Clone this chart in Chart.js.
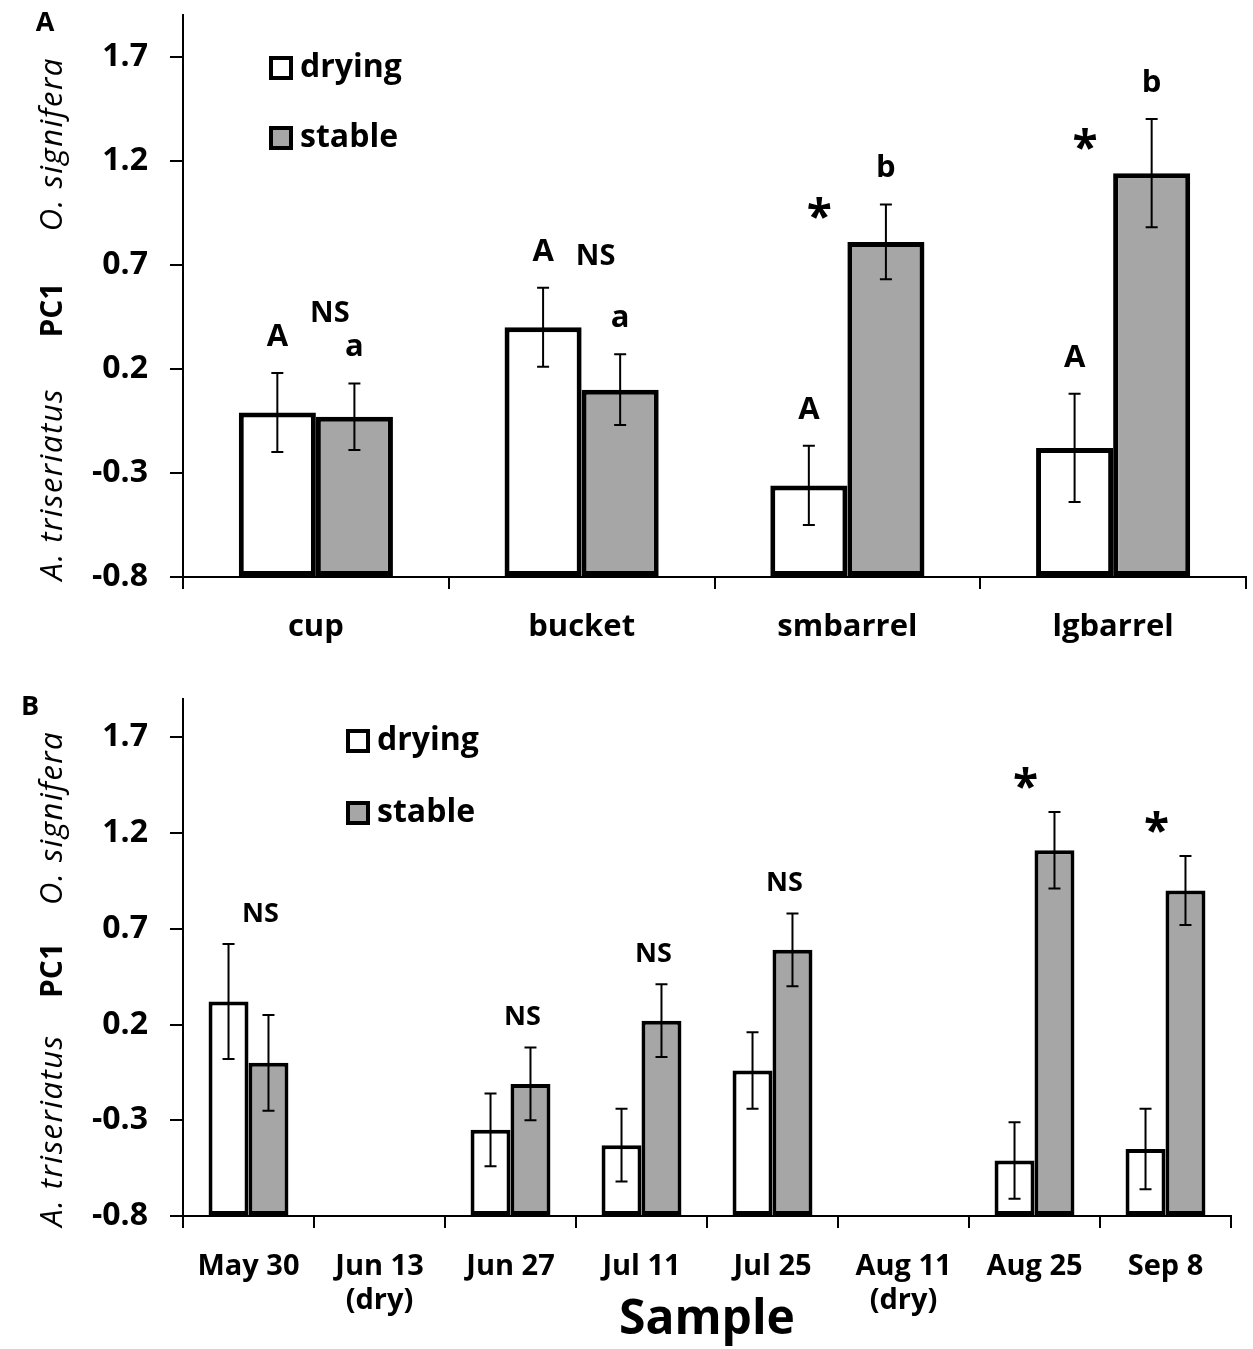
<!DOCTYPE html>
<html>
<head>
<meta charset="utf-8">
<script src="https://cdn.jsdelivr.net/npm/chart.js@4.4.0/dist/chart.umd.min.js"></script>
<style>
  html, body { margin: 0; padding: 0; background: #fff; }
  .wrap { position: absolute; left: 0; width: 1253px; }
  #wrap-a { top: 0; height: 668px; }
  #wrap-b { top: 680px; height: 669px; }
</style>
</head>
<body>
<div class="wrap" id="wrap-a"><canvas id="chart-a"></canvas></div>
<div class="wrap" id="wrap-b"><canvas id="chart-b"></canvas></div>
<script>
// panel A - container size
const SIZES = ["cup", "bucket", "smbarrel", "lgbarrel"];
const SIZE_DRYING = [-0.01, 0.40, -0.36, -0.18];
const SIZE_DRYING_ERR = [0.19, 0.19, 0.19, 0.26];
const SIZE_STABLE = [-0.03, 0.10, 0.81, 1.14];
const SIZE_STABLE_ERR = [0.16, 0.17, 0.18, 0.26];
const SIZE_DRYING_LETTERS = ["A", "A", "A", "A"];
const SIZE_STABLE_LETTERS = ["a", "a", "b", "b"];
const SIZE_SIG = ["NS", "NS", "*", "*"];

// panel B - sample date
const DATES = ["May 30", ["Jun 13", "(dry)"], "Jun 27", "Jul 11", "Jul 25", ["Aug 11", "(dry)"], "Aug 25", "Sep 8"];
const DATE_DRYING = [0.32, null, -0.35, -0.43, -0.04, null, -0.51, -0.45];
const DATE_DRYING_ERR = [0.30, null, 0.19, 0.19, 0.20, null, 0.20, 0.21];
const DATE_STABLE = [0.00, null, -0.11, 0.22, 0.59, null, 1.11, 0.90];
const DATE_STABLE_ERR = [0.25, null, 0.19, 0.19, 0.19, null, 0.20, 0.18];
const DATE_SIG = ["NS", "", "NS", "NS", "NS", "", "*", "*"];

const Y_TICKS = [-0.8, -0.3, 0.2, 0.7, 1.2, 1.7];
const Y_MIN = -0.8;
const Y_MAX = 1.9;

const FONT = "'Open Sans', 'Noto Sans', sans-serif";
const GRAY = "#a6a6a6";

Chart.defaults.font.family = FONT;
Chart.defaults.color = "#000";

function font(size, style) {
  return (style || "bold") + " " + size + "px " + FONT;
}

// error bars, letters, significance marks, legend, y title
function makeExtras(cfg) {
  return {
    id: "extras",
    afterDraw(chart) {
      const ctx = chart.ctx;
      const ys = chart.scales.y;
      const area = chart.chartArea;
      const sets = chart.data.datasets;
      ctx.save();
      ctx.strokeStyle = "#000";
      ctx.fillStyle = "#000";
      ctx.textAlign = "center";
      ctx.textBaseline = "middle";

      const tops = sets.map(() => []);
      sets.forEach((d, i) => {
        chart.getDatasetMeta(i).data.forEach((bar, j) => {
          if (d.data[j] == null) return;
          const t = ys.getPixelForValue(d.data[j] + d.errors[j]);
          const b = ys.getPixelForValue(d.data[j] - d.errors[j]);
          tops[i][j] = t;
          ctx.lineWidth = 2;
          ctx.beginPath();
          ctx.moveTo(bar.x, t); ctx.lineTo(bar.x, b);
          ctx.moveTo(bar.x - cfg.cap, t); ctx.lineTo(bar.x + cfg.cap, t);
          ctx.moveTo(bar.x - cfg.cap, b); ctx.lineTo(bar.x + cfg.cap, b);
          ctx.stroke();
          if (d.letters) {
            ctx.font = font(cfg.letterSize);
            ctx.fillText(d.letters[j], bar.x, t - cfg.letterGap);
          }
        });
      });

      const dry = chart.getDatasetMeta(0).data;
      const stb = chart.getDatasetMeta(1).data;
      cfg.sig.forEach((s, j) => {
        if (!s) return;
        const p = cfg.place(s, {
          center: (dry[j].x + stb[j].x) / 2,
          dry: dry[j], stb: stb[j],
          dryTop: tops[0][j], stbTop: tops[1][j]
        });
        ctx.font = s === "*" ? font(cfg.starSize) : font(cfg.nsSize);
        ctx.fillText(s, p.x, p.y);
      });

      // legend inside plot
      const lg = cfg.legend;
      sets.forEach((d, i) => {
        const bx = area.left + lg.dx;
        const cy = area.top + lg.dy + i * lg.gap;
        ctx.fillStyle = d.backgroundColor;
        ctx.fillRect(bx, cy - lg.box / 2, lg.box, lg.box);
        ctx.lineWidth = 4;
        ctx.strokeRect(bx + 2, cy - lg.box / 2 + 2, lg.box - 4, lg.box - 4);
        ctx.fillStyle = "#000";
        ctx.textAlign = "left";
        ctx.font = font(lg.size);
        ctx.fillText(d.label, bx + lg.box + 7, cy);
      });

      // rotated y title in three styles
      const h = area.bottom - area.top;
      ctx.textAlign = "center";
      cfg.yTitle.forEach(p => {
        ctx.save();
        ctx.translate(cfg.yTitleX, area.bottom - p.at * h);
        ctx.rotate(-Math.PI / 2);
        ctx.font = p.font;
        ctx.letterSpacing = p.spacing;
        ctx.fillText(p.text, 0, 0);
        ctx.restore();
      });

      ctx.font = font(27);
      ctx.fillText(cfg.panel, cfg.panelX, cfg.panelY);
      ctx.restore();
    }
  };
}

const Y_TITLE = [
  { text: "A. triseriatus", font: font(31, "italic"), spacing: "1.5px", at: 0.165 },
  { text: "PC1", font: font(30), spacing: "0px", at: 0.475 },
  { text: "O. signifera", font: font(31, "italic"), spacing: "1.5px", at: 0.77 }
];

function makeScales(axisHeight, labelSize, labelPad, title) {
  return {
    x: {
      afterFit: (s) => { s.height = axisHeight; s.paddingLeft = 0; s.paddingRight = 0; },
      grid: { drawOnChartArea: false, offset: true, tickLength: 12, color: "#000", lineWidth: 2 },
      border: { display: true, color: "#000", width: 2 },
      ticks: { color: "#000", font: { size: labelSize, weight: "bold" }, padding: labelPad, maxRotation: 0, autoSkip: false },
      title: title ? { display: true, text: title, color: "#000", font: { size: 48, weight: "bold" }, padding: 0 } : { display: false }
    },
    y: {
      min: Y_MIN,
      max: Y_MAX,
      afterFit: (s) => { s.width = 183; s.paddingTop = 0; s.paddingBottom = 0; },
      afterBuildTicks: (s) => { s.ticks = Y_TICKS.map(v => ({ value: v })); },
      grid: { drawOnChartArea: false, tickLength: 13, color: "#000", lineWidth: 2 },
      border: { display: true, color: "#000", width: 2 },
      ticks: { color: "#000", font: { size: 32, weight: "bold" }, padding: 22, callback: (v) => Number(v).toFixed(1) }
    }
  };
}

function makeDatasets(dry, dryErr, stb, stbErr, border, dryLetters, stbLetters) {
  return [
    { label: "drying", data: dry, errors: dryErr, letters: dryLetters, backgroundColor: "#ffffff",
      borderColor: "#000", borderWidth: border, borderSkipped: false, base: Y_MIN },
    { label: "stable", data: stb, errors: stbErr, letters: stbLetters, backgroundColor: GRAY,
      borderColor: "#000", borderWidth: border, borderSkipped: false, base: Y_MIN }
  ];
}

// chart A
new Chart(document.getElementById("chart-a"), {
  type: "bar",
  data: {
    labels: SIZES,
    datasets: makeDatasets(SIZE_DRYING, SIZE_DRYING_ERR, SIZE_STABLE, SIZE_STABLE_ERR, 5,
      SIZE_DRYING_LETTERS, SIZE_STABLE_LETTERS)
  },
  options: {
    responsive: true,
    maintainAspectRatio: false,
    animation: false,
    layout: { padding: { top: 15, right: 7, bottom: 0, left: 0 } },
    datasets: { bar: { categoryPercentage: 0.58, barPercentage: 1.0 } },
    scales: makeScales(91, 31, 20, null),
    plugins: { legend: { display: false }, tooltip: { enabled: false } }
  },
  plugins: [makeExtras({
    cap: 6, letterGap: 36, letterSize: 31, nsSize: 29, starSize: 46,
    sig: SIZE_SIG,
    place: (s, b) => s === "*"
      ? { x: b.stb.x - b.stb.width / 2 - 28, y: b.stb.y - 22 }
      : { x: b.center + 14, y: (b.dryTop + b.stbTop) / 2 - 64 },
    legend: { dx: 86, dy: 53, gap: 70, box: 24, size: 32 },
    yTitle: Y_TITLE, yTitleX: 53,
    panel: "A", panelX: 45, panelY: 23
  })]
});

// chart B
new Chart(document.getElementById("chart-b"), {
  type: "bar",
  data: {
    labels: DATES,
    datasets: makeDatasets(DATE_DRYING, DATE_DRYING_ERR, DATE_STABLE, DATE_STABLE_ERR, 4)
  },
  options: {
    responsive: true,
    maintainAspectRatio: false,
    animation: false,
    layout: { padding: { top: 19, right: 22, bottom: 0, left: 0 } },
    datasets: { bar: { categoryPercentage: 0.61, barPercentage: 1.0 } },
    scales: makeScales(133, 29, 21, "Sample"),
    plugins: { legend: { display: false }, tooltip: { enabled: false } }
  },
  plugins: [makeExtras({
    cap: 6, letterGap: 34, letterSize: 31, nsSize: 27, starSize: 46,
    sig: DATE_SIG,
    place: (s, b) => s === "*"
      ? { x: b.center - 9, y: b.stbTop - 22 }
      : { x: b.stb.x - 8, y: Math.min(b.dryTop, b.stbTop) - 30 },
    legend: { dx: 163, dy: 42, gap: 72, box: 24, size: 32 },
    yTitle: Y_TITLE, yTitleX: 53,
    panel: "B", panelX: 30, panelY: 27
  })]
});
</script>
</body>
</html>
